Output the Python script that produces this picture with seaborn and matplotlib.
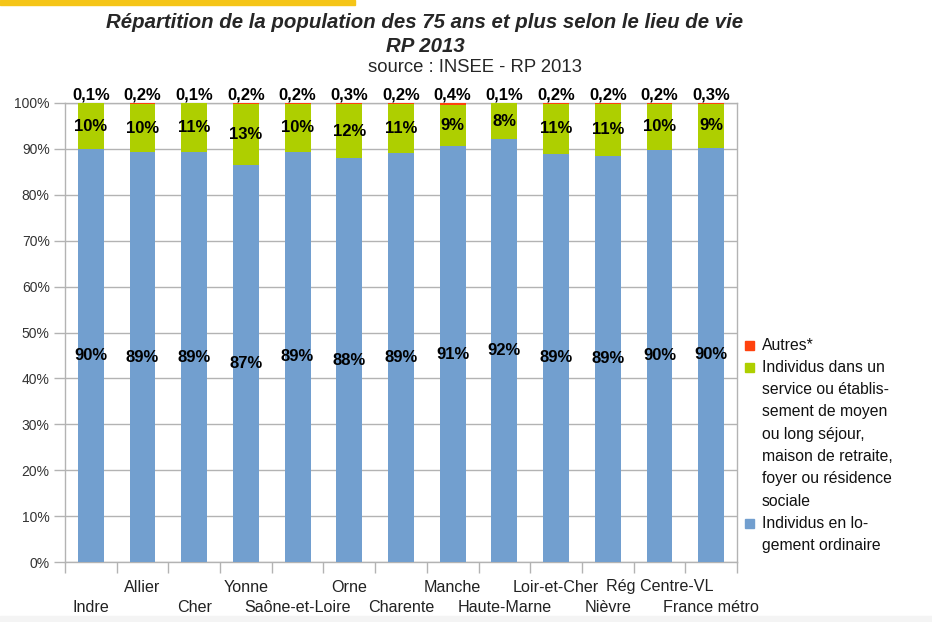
import matplotlib
matplotlib.use("Agg")
import matplotlib.pyplot as plt
import seaborn as sns
import pandas as pd
import numpy as np
from matplotlib.patches import Rectangle

categories = ["Indre", "Allier", "Cher", "Yonne", "Saône-et-Loire", "Orne", "Charente",
              "Manche", "Haute-Marne", "Loir-et-Cher", "Nièvre", "Rég Centre-VL", "France métro"]
ordinaire = [89.9, 89.3, 89.3, 86.6, 89.4, 88.0, 89.0, 90.6, 92.1, 88.9, 88.5, 89.8, 90.3]
etablissement = [10.0, 10.5, 10.6, 13.2, 10.4, 11.7, 10.8, 9.0, 7.8, 10.9, 11.3, 10.0, 9.4]
autres = [0.1, 0.2, 0.1, 0.2, 0.2, 0.3, 0.2, 0.4, 0.1, 0.2, 0.2, 0.2, 0.3]
lbl_ordinaire = ["90%", "89%", "89%", "87%", "89%", "88%", "89%", "91%", "92%", "89%", "89%", "90%", "90%"]
lbl_etab = ["10%", "10%", "11%", "13%", "10%", "12%", "11%", "9%", "8%", "11%", "11%", "10%", "9%"]
lbl_autres = ["0,1%", "0,2%", "0,1%", "0,2%", "0,2%", "0,3%", "0,2%", "0,4%", "0,1%", "0,2%", "0,2%", "0,2%", "0,3%"]
legend_lines = [
    ["Autres*"],
    ["Individus dans un", "service ou établis-", "sement de moyen", "ou long séjour,",
     "maison de retraite,", "foyer ou résidence", "sociale"],
    ["Individus en lo-", "gement ordinaire"],
]

C_BLUE = "#729fcf"
C_GREEN = "#aecf00"
C_RED = "#ff420e"

sns.set_theme(style="white")
plt.rcParams["font.family"] = ["Liberation Sans", "DejaVu Sans"]

df = pd.DataFrame({"cat": categories, "ord": ordinaire, "etab": etablissement, "aut": autres})
df["c2"] = df["ord"] + df["etab"]
df["c3"] = df["c2"] + df["aut"]

W, H = 932, 622
fig = plt.figure(figsize=(W / 100, H / 100), dpi=100)
ax = fig.add_axes([65 / W, 60 / H, (737 - 65) / W, (562 - 103) / H])

for col, colr in [("c3", C_RED), ("c2", C_GREEN), ("ord", C_BLUE)]:
    sns.barplot(data=df, x="cat", y=col, color=colr, width=0.5, ax=ax, saturation=1,
                zorder=3, linewidth=0, edgecolor="none")

ax.set_ylim(0, 100)
ax.set_xlim(-0.5, len(categories) - 0.5)
ax.set_yticks(np.arange(0, 101, 10))
ax.set_yticklabels([f"{v}%" for v in range(0, 101, 10)], fontsize=10, color="#333333")
ax.yaxis.grid(True, color="#b3b3b3", linewidth=1, zorder=0)
ax.set_axisbelow(True)
ax.tick_params(axis="y", length=8, color="#b3b3b3", width=1, pad=3, left=True)
ax.set_xlabel("")
ax.set_ylabel("")

# category labels staggered on two rows: odd positions on the upper row as tick labels,
# even positions on the lower row
upper = [i for i in range(len(categories)) if i % 2 == 1]
ax.set_xticks(upper)
ax.set_xticklabels([categories[i] for i in upper], fontsize=11.6, color="#222222")
ax.tick_params(axis="x", which="major", length=0, pad=18, labelbottom=True)
for lab in ax.get_xticklabels():
    lab.set_va("center")
for i in range(0, len(categories), 2):
    ax.annotate(categories[i], (i, 0), xycoords=("data", "axes fraction"),
                xytext=(0, -(607 - 562) * 0.72), textcoords="offset points",
                ha="center", va="center", fontsize=11.6, color="#222222", annotation_clip=False)
ax.set_xticks(np.arange(-0.5, len(categories), 1), minor=True)
ax.tick_params(axis="x", which="minor", length=8, color="#b3b3b3", width=1, bottom=True)

for s in ["left", "bottom", "right", "top"]:
    ax.spines[s].set_visible(True)
    ax.spines[s].set_color("#b3b3b3")
    ax.spines[s].set_linewidth(1)

for i in range(len(categories)):
    ax.text(i, ordinaire[i] / 2, lbl_ordinaire[i], ha="center", va="center",
            fontsize=12, fontweight="bold", color="black", zorder=5)
    ax.text(i, ordinaire[i] + etablissement[i] / 2, lbl_etab[i], ha="center", va="center",
            fontsize=12, fontweight="bold", color="black", zorder=5)
    ax.annotate(lbl_autres[i], (i, 100), xytext=(0, 0.5), textcoords="offset points",
                ha="center", va="bottom", fontsize=12, fontweight="bold", color="black",
                annotation_clip=False, zorder=5)

# legend drawn manually (markers aligned with first line of each entry)
y0 = 345
step = 22.3
k = 0
for colr, lines in zip([C_RED, C_GREEN, C_BLUE], legend_lines):
    yc = y0 + k * step
    fig.patches.append(Rectangle((745 / W, 1 - (yc + 4.5) / H), 9 / W, 9 / H,
                                 transform=fig.transFigure, color=colr, zorder=5))
    for ln in lines:
        yc = y0 + k * step
        fig.text(762 / W, 1 - yc / H, ln, ha="left", va="center", fontsize=11.3, color="#111111")
        k += 1

fig.text(425 / W, 1 - 23 / H, "Répartition de la population des 75 ans et plus selon le lieu de vie",
         ha="center", va="center", fontsize=14.7, fontweight="bold", style="italic")
fig.text(425 / W, 1 - 47 / H, "RP 2013", ha="center", va="center",
         fontsize=14.7, fontweight="bold", style="italic")
fig.text(475 / W, 1 - 68 / H, "source : INSEE - RP 2013", ha="center", va="center", fontsize=13.3)

# decorative top band and bottom strip from the screenshot
fig.patches.append(Rectangle((0, 1 - 5 / H), 355 / W, 5 / H, transform=fig.transFigure,
                             color="#f5c518", zorder=0))
fig.patches.append(Rectangle((0, 0), 1, 6 / H, transform=fig.transFigure,
                             color="#f4f4f4", zorder=0))

fig.savefig("out.png", dpi=100)
